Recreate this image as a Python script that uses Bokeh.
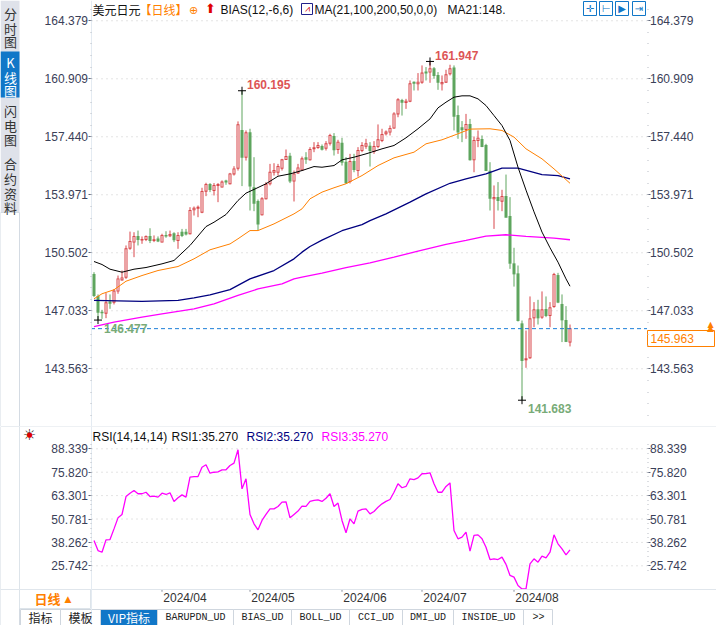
from bokeh.embed import file_html
from bokeh.layouts import column
from bokeh.models import (BoxAnnotation, ColumnDataSource, FixedTicker, Label, LinearAxis,
                          PrintfTickFormatter, Range1d)
from bokeh.plotting import figure
from bokeh.resources import INLINE

# 日线 OHLC
opens = [149.20, 147.89, 146.95, 146.89, 147.55, 147.55, 148.21, 148.88, 149.04, 150.78,
         151.14, 151.48, 151.26, 151.30, 151.48, 151.24, 151.32, 151.14, 151.54, 151.52,
         151.64, 151.24, 151.73, 151.73, 151.64, 153.07, 153.17, 152.93, 154.19, 154.59,
         154.23, 154.53, 154.43, 154.79, 154.63, 155.22, 155.56, 157.82, 156.22, 157.68,
         154.39, 153.57, 152.77, 153.73, 154.63, 155.32, 155.32, 155.56, 156.08, 156.28,
         154.79, 155.28, 155.46, 156.18, 156.06, 156.72, 156.80, 156.86, 156.76, 157.06,
         157.46, 156.68, 157.06, 155.92, 154.77, 155.96, 155.42, 156.62, 156.88, 156.88,
         156.56, 156.86, 157.22, 157.62, 157.72, 157.96, 158.81, 159.61, 159.49, 159.57,
         160.71, 160.61, 160.71, 161.31, 161.31, 161.51, 161.11, 160.61, 160.71, 161.21,
         161.55, 158.71, 157.98, 157.88, 158.18, 156.06, 157.22, 157.28, 156.92, 155.38,
         153.73, 153.81, 153.59, 153.87, 152.67, 149.84, 149.24, 146.25, 144.10, 144.22,
         146.61, 147.09, 146.65, 147.11, 146.75, 147.29, 149.14, 147.41, 146.45, 145.16]
highs = [149.34, 148.01, 147.09, 148.09, 148.01, 148.33, 149.14, 149.44, 150.94, 151.77,
         151.73, 151.83, 151.48, 151.54, 151.97, 151.54, 151.48, 151.64, 151.79, 151.83,
         151.73, 151.73, 151.93, 151.93, 153.23, 153.27, 153.33, 154.39, 154.69, 154.67,
         154.67, 154.67, 154.83, 154.87, 155.28, 155.68, 158.36, 160.195, 157.82, 157.92,
         156.22, 153.69, 153.83, 154.73, 155.82, 155.86, 155.82, 156.12, 156.68, 156.48,
         155.42, 155.82, 156.26, 156.52, 156.82, 157.12, 157.12, 156.98, 157.18, 157.62,
         157.66, 157.26, 157.38, 156.22, 156.42, 156.42, 156.82, 157.12, 157.32, 157.12,
         157.18, 158.18, 157.92, 157.82, 158.12, 158.91, 159.75, 159.71, 159.71, 160.81,
         160.75, 161.25, 161.71, 161.61, 161.947, 161.61, 161.31, 161.11, 161.45, 161.75,
         161.71, 159.31, 158.38, 158.81, 158.51, 157.46, 157.82, 157.52, 157.02, 155.92,
         154.53, 154.73, 154.27, 155.18, 153.83, 150.80, 149.74, 146.45, 145.85, 147.89,
         147.55, 147.69, 148.19, 147.89, 147.55, 149.30, 149.30, 148.01, 147.31, 146.21]
lows = [147.85, 146.477, 146.55, 146.59, 147.15, 147.41, 148.05, 148.84, 148.94, 150.68,
        150.24, 150.94, 151.04, 151.20, 151.08, 151.14, 151.14, 151.12, 151.40, 151.44,
        151.14, 150.74, 151.44, 151.54, 151.60, 152.73, 152.63, 152.87, 153.89, 154.13,
        153.93, 153.53, 154.41, 154.57, 154.59, 155.12, 155.42, 154.49, 156.02, 153.03,
        152.99, 151.86, 152.73, 153.69, 154.53, 155.12, 155.12, 155.42, 156.06, 154.67,
        153.57, 155.22, 155.42, 155.82, 156.02, 156.52, 156.72, 156.62, 156.62, 156.92,
        156.32, 156.42, 155.72, 154.63, 154.65, 155.32, 155.06, 156.52, 156.72, 155.66,
        156.42, 156.76, 157.12, 157.52, 157.52, 157.92, 158.61, 158.71, 159.11, 159.51,
        160.21, 160.21, 160.61, 160.81, 160.67, 160.91, 160.25, 160.21, 160.67, 161.11,
        157.82, 157.32, 157.12, 157.32, 156.02, 155.32, 156.82, 156.82, 155.42, 153.03,
        151.93, 153.03, 152.99, 152.63, 149.54, 148.48, 146.39, 141.683, 143.62, 144.16,
        146.05, 146.21, 146.55, 146.65, 146.05, 147.21, 147.49, 145.16, 145.16, 144.90]
closes = [147.95, 146.95, 146.91, 147.51, 147.49, 148.21, 148.94, 149.00, 150.74, 151.18,
          151.48, 151.30, 151.30, 151.48, 151.24, 151.28, 151.20, 151.54, 151.50, 151.60,
          151.28, 151.54, 151.54, 151.62, 153.03, 153.17, 153.23, 154.17, 154.59, 154.29,
          154.53, 154.59, 154.73, 154.73, 155.22, 155.52, 158.16, 156.22, 157.68, 154.49,
          153.47, 152.23, 153.73, 154.59, 155.32, 155.42, 155.66, 156.06, 156.26, 154.79,
          155.22, 155.58, 156.12, 156.10, 156.68, 156.78, 156.92, 156.70, 157.02, 157.52,
          156.66, 157.12, 155.92, 154.69, 155.96, 155.48, 156.62, 156.92, 157.02, 156.62,
          156.86, 157.26, 157.58, 157.72, 157.94, 158.81, 159.65, 159.51, 159.57, 160.61,
          160.65, 160.71, 161.25, 161.25, 161.51, 161.11, 160.71, 160.69, 161.15, 161.51,
          158.67, 157.72, 157.86, 158.18, 156.06, 157.22, 157.36, 156.86, 155.42, 153.77,
          153.81, 153.63, 153.87, 152.63, 149.88, 149.24, 146.45, 144.06, 144.16, 146.55,
          147.09, 146.61, 147.09, 146.75, 147.21, 149.20, 147.55, 146.49, 145.20, 145.963]

# moving averages, read at the bars listed in *_bars
ma21_bars = [0, 2, 4, 7, 10, 13, 17, 20, 24, 28, 30, 33, 36, 38, 40, 43, 46, 49, 52, 55, 57, 60, 62, 65, 68, 72,
             75, 78, 81, 84, 86, 88, 90, 92, 94, 96, 98, 100, 102, 104, 106, 108, 110, 112, 114, 116, 118, 119]
ma21 = [149.98, 149.80, 149.52, 149.34, 149.52, 149.62, 149.84, 150.04, 150.94, 152.07, 152.33, 152.79, 153.63,
        154.07, 154.29, 154.63, 155.08, 155.22, 155.42, 155.66, 155.62, 155.72, 156.06, 156.22, 156.42, 156.72,
        156.92, 157.38, 157.92, 158.51, 159.17, 159.51, 159.81, 159.89, 159.89, 159.71, 159.31, 158.71, 158.11,
        157.22, 155.62, 154.25, 152.95, 151.74, 150.80, 149.94, 148.94, 148.50]
ma50_bars = [0, 2, 5, 8, 12, 16, 21, 25, 29, 34, 36, 39, 41, 45, 50, 52, 54, 57, 60, 63, 67, 71, 75, 80, 83, 87,
             91, 94, 99, 102, 105, 108, 112, 115, 119]
ma50 = [147.75, 148.05, 148.29, 148.80, 149.14, 149.44, 149.68, 150.14, 150.68, 151.03, 151.34, 151.83, 151.83,
        152.23, 152.83, 153.13, 153.73, 154.13, 154.39, 154.63, 155.12, 155.72, 156.18, 156.52, 157.02, 157.26,
        157.62, 157.90, 157.92, 157.82, 157.42, 156.72, 156.12, 155.52, 154.66]
ma100_bars = [0, 12, 21, 25, 29, 34, 39, 45, 50, 52, 54, 57, 62, 67, 69, 73, 79, 83, 89, 93, 98, 102, 106, 112, 116,
              119]
ma100 = [147.65, 147.59, 147.65, 147.81, 147.99, 148.30, 148.94, 149.44, 150.14, 150.54, 150.88, 151.26, 151.82,
         152.19, 152.43, 152.83, 153.53, 154.03, 154.66, 154.92, 155.22, 155.56, 155.56, 155.18, 155.12, 154.92]
ma200_bars = [0, 5, 12, 17, 25, 30, 36, 41, 47, 50, 52, 57, 63, 69, 75, 81, 88, 93, 98, 103, 108, 115, 119]
ma200 = [146.09, 146.35, 146.65, 146.85, 147.15, 147.45, 147.95, 148.34, 148.64, 148.94, 149.04, 149.28, 149.62,
         149.90, 150.24, 150.60, 151.00, 151.24, 151.50, 151.58, 151.48, 151.38, 151.28]

rsi = [39.3, 33.9, 33.0, 39.6, 39.8, 45.5, 51.4, 53.2, 62.8, 64.6, 66.0, 64.3, 64.3, 65.1, 62.8, 63.0, 62.5, 64.6,
       63.9, 64.8, 60.2, 62.1, 63.7, 62.5, 73.2, 73.5, 73.5, 78.5, 79.8, 75.3, 75.8, 76.0, 77.1, 77.1, 79.4, 80.7,
       87.8, 66.9, 72.3, 53.2, 48.2, 45.0, 50.0, 53.2, 56.2, 56.2, 57.5, 59.8, 60.0, 51.4, 53.2, 55.0, 57.7, 57.5,
       60.2, 60.7, 61.0, 60.2, 61.9, 64.3, 57.5, 59.3, 50.0, 43.4, 50.9, 48.2, 55.0, 55.9, 56.2, 53.5, 54.8, 57.1,
       58.9, 60.2, 61.2, 65.1, 69.6, 67.5, 68.2, 72.3, 71.9, 72.8, 75.0, 75.1, 75.5, 69.6, 65.1, 65.1, 68.2, 70.1,
       44.6, 40.2, 41.1, 43.8, 33.6, 42.0, 42.3, 40.2, 35.7, 29.1, 29.5, 29.1, 30.4, 26.5, 20.6, 19.7, 15.2, 13.4,
       13.4, 26.8, 29.5, 27.7, 30.9, 30.0, 33.0, 42.3, 37.5, 34.8, 31.6, 34.3]

price_ticks = [164.379, 160.909, 157.440, 153.971, 150.502, 147.033, 143.563]
rsi_ticks = [88.339, 75.820, 63.301, 50.781, 38.262, 25.742]
month_bars = [17, 39, 62, 82, 105]
month_labels = ["2024/04", "2024/05", "2024/06", "2024/07", "2024/08"]
last_close = 145.963
last_rsi = "35.270"

RED = "#d8474a"
GREEN = "#5ea55e"
AXIS_TEXT = "#3a4058"
SANS = "Liberation Sans"
CJK = "Noto Sans CJK SC"
MONO = "Liberation Mono"
ORANGE = "#ff8000"
BLUE = "#1177c8"
# the frame fills the whole canvas, so the axes sit at fixed bars inside it
LEFT_BAR = -0.75
RIGHT_BAR = 138.25
RSI_FLOOR = 13.07
ONE_PX = 0.06  # one pixel of the price scale


def minor_ticks(ticks, below, above):
    # four small dots between the labelled ticks
    step = (ticks[0] - ticks[1]) / 5
    return [ticks[0] + step * n for n in range(-5 * (len(ticks) - 1) - below, above + 1)]


def style_axis(axis, ticks, minors, location):
    axis.fixed_location = location
    axis.ticker = FixedTicker(ticks=ticks, minor_ticks=minors)
    axis.formatter = PrintfTickFormatter(format="%.3f")
    axis.major_label_text_font = SANS
    axis.major_label_text_font_size = "12px"
    axis.major_label_text_color = AXIS_TEXT
    axis.major_label_standoff = 0
    axis.major_tick_in = 0
    axis.major_tick_out = 3
    axis.major_tick_line_color = "#60687c"
    axis.minor_tick_in = 0
    axis.minor_tick_out = 1
    axis.minor_tick_line_color = "#b8bcc4"
    axis.axis_line_color = "#e4ebf2"


def base_figure(height, y_range):
    fig = figure(width=716, height=height, x_range=Range1d(-23.375, 155.625), y_range=y_range,
                 output_backend="svg", toolbar_location=None, x_axis_location=None,
                 min_border_left=0, min_border_right=0, min_border_top=0, min_border_bottom=0)
    fig.outline_line_color = None
    fig.xgrid.visible = False
    fig.ygrid.visible = False
    return fig


def add_grid(fig, ticks):
    fig.segment([LEFT_BAR] * len(ticks), ticks, [RIGHT_BAR] * len(ticks), ticks,
                line_color="#e4e4e4", line_width=1, line_dash="2 3")


def put(fig, page_bottom, x, y, text, color="#111111", size=12, font=SANS, style="normal", align="left"):
    # x, y are page positions for the chrome around the chart
    fig.add_layout(Label(x=x, y=page_bottom - y, x_units="screen", y_units="screen", text=text,
                         text_color=color, text_font=font, text_font_size=f"{size}px", text_font_style=style,
                         text_align=align, text_baseline="middle"))


def box(fig, page_bottom, left, right, top, bottom, fill=None, line=None, level="underlay"):
    fig.add_layout(BoxAnnotation(left=left, right=right, top=page_bottom - top, bottom=page_bottom - bottom,
                                 left_units="screen", right_units="screen", top_units="screen",
                                 bottom_units="screen", fill_color=fill, fill_alpha=1 if fill else 0,
                                 line_color=line, line_alpha=1 if line else 0, line_width=1, level=level))


# price panel
p = base_figure(426, Range1d(140.11, 165.593))
add_grid(p, price_ticks)
price_minor = minor_ticks(price_ticks, 5, 3)
style_axis(p.yaxis[0], price_ticks, price_minor, LEFT_BAR)
right_axis = LinearAxis()
style_axis(right_axis, price_ticks, price_minor, RIGHT_BAR)
right_axis.axis_line_color = None
p.add_layout(right_axis, "right")

bars = list(range(len(opens)))
up = [c >= o for o, c in zip(opens, closes)]
source = ColumnDataSource(dict(
    x=bars, high=highs, low=lows,
    top=[max(o, c) + ONE_PX / 2 for o, c in zip(opens, closes)],
    bottom=[min(o, c) - ONE_PX / 2 for o, c in zip(opens, closes)],
    line=[RED if u else GREEN for u in up],
))
# wicks and bodies as thick strokes, so they stay on whole pixels; rising bars get a white core
p.segment("x", "high", "x", "low", source=source, line_color="line", line_width=1)
p.segment("x", "top", "x", "bottom", source=source, line_color="line", line_width=3, line_cap="butt")
hollow = [b for b in bars if up[b] and closes[b] - opens[b] > ONE_PX]
p.segment(hollow, [closes[b] - ONE_PX / 2 for b in hollow], hollow, [opens[b] + ONE_PX / 2 for b in hollow],
          line_color="white", line_width=1, line_cap="butt")

p.line(ma200_bars, ma200, line_color="#ff00ff", line_width=1.3)
p.line(ma100_bars, ma100, line_color="#000080", line_width=1.3)
p.line(ma50_bars, ma50, line_color=ORANGE, line_width=1)
p.line(ma21_bars, ma21, line_color="#000000", line_width=1)

p.line([LEFT_BAR, RIGHT_BAR], [last_close, last_close], line_color="#1e7fd8", line_width=1, line_dash="4 3")

# high and low markers
top_bars = [highs.index(max(highs[:60])), highs.index(max(highs))]
low_bars = [lows.index(min(lows[:60])), lows.index(min(lows))]
p.scatter(top_bars, [highs[b] for b in top_bars], marker="cross", size=8, line_color="black")
p.scatter(low_bars, [lows[b] for b in low_bars], marker="cross", size=8, line_color="black")
for b in top_bars:
    p.add_layout(Label(x=b, y=highs[b], text=f"{highs[b]:.3f}", text_color="#dd5555", text_font=SANS,
                       text_font_size="12px", text_font_style="bold", x_offset=5, y_offset=6,
                       text_baseline="middle"))
for b in low_bars:
    p.add_layout(Label(x=b, y=lows[b], text=f"{lows[b]:.3f}", text_color="#78ab78", text_font=SANS,
                       text_font_size="12px", text_font_style="bold", x_offset=6, y_offset=-8,
                       text_baseline="middle"))

# title row
put(p, 426, 92, 9, "美元日元", font=CJK)
put(p, 426, 139, 9, "【日线】", color=ORANGE, font=CJK)
put(p, 426, 193, 10, "⊕", color=ORANGE, size=11, font="DejaVu Sans", align="center")
put(p, 426, 210, 8, "⬆", color="#e00000", size=13, font="DejaVu Sans", align="center")
put(p, 426, 220, 9, "BIAS(12,-6,6)")
box(p, 426, 301, 312, 3, 14, fill="#ffffff", line="#20208a")
put(p, 426, 306.5, 8.5, "⩘", color="#d00000", size=9, font="DejaVu Sans", align="center")
put(p, 426, 314, 9, "MA(21,100,200,50,0,0)")
put(p, 426, 447, 9, "MA21:148.")

# buttons at the top right
for left, mark in zip([583, 599, 615, 632], ["✛", "⊢", "▶", "⇥"]):
    box(p, 426, left, left + 13, 1, 15, line=BLUE)
    put(p, 426, left + 6.5, 8, mark, color=BLUE, size=10, font="DejaVu Sans", align="center")

# last price tag
box(p, 426, 647, 714, 330, 346, fill="#ffffff", line=ORANGE)
put(p, 426, 650, 338, f"{last_close:.3f}", color=ORANGE)
put(p, 426, 710, 324, "▲", color=ORANGE, size=8, font="DejaVu Sans", align="center")
put(p, 426, 710, 327, "▲", color=ORANGE, size=9, font="DejaVu Sans", align="center")

# side tabs
box(p, 426, 0, 19, 0, 212, fill="#dfe2ea")
box(p, 426, 0, 19, 51, 97, fill=BLUE)
box(p, 426, 0, 19, 212, 426, line="#d4dbe3")
side = [("分", 13), ("时", 28), ("图", 41), ("K", 62), ("线", 77), ("图", 90), ("闪", 110), ("电", 125), ("图", 139),
        ("合", 163), ("约", 178), ("资", 193), ("料", 207)]
for ch, y in side:
    put(p, 426, 10, y, ch, color="#ffffff" if 51 < y < 97 else "#333333", size=13, font=CJK, align="center")

# RSI panel, the frame runs on below the axis to hold the tab row
q = base_figure(199, Range1d(-6.19, 100.27))
add_grid(q, rsi_ticks)
rsi_minor = minor_ticks(rsi_ticks, 1, 1)
style_axis(q.yaxis[0], rsi_ticks, rsi_minor, LEFT_BAR)
rsi_right = LinearAxis()
style_axis(rsi_right, rsi_ticks, rsi_minor, RIGHT_BAR)
rsi_right.axis_line_color = None
q.add_layout(rsi_right, "right")

# month names start at the tick, and an axis centres them, so their ticks sit half a label further on
label_bars = [b + 5.75 for b in month_bars]
month_axis = LinearAxis(ticker=FixedTicker(ticks=label_bars), fixed_location=RSI_FLOOR,
                        major_label_overrides=dict(zip(label_bars, month_labels)))
month_axis.major_label_text_font = SANS
month_axis.major_label_text_font_size = "12px"
month_axis.major_label_text_color = "#333333"
month_axis.major_label_standoff = 2
month_axis.major_tick_line_color = None
month_axis.minor_tick_line_color = None
month_axis.major_tick_in = 0
month_axis.major_tick_out = 0
month_axis.axis_line_color = "#e0e6ec"
q.add_layout(month_axis, "below")
q.segment(month_bars, [RSI_FLOOR] * 5, month_bars, [RSI_FLOOR - 1.2] * 5, line_color="#8a8f9c", line_width=1)

q.line(bars, rsi, line_color="#ff00ff", line_width=1.3)

put(q, 625, 92, 436, "RSI(14,14,14)")
put(q, 625, 171, 436, f"RSI1:{last_rsi}")
put(q, 625, 246, 436, f"RSI2:{last_rsi}", color="#000080")
put(q, 625, 321, 436, f"RSI3:{last_rsi}", color="#ff00ff")
put(q, 625, 29, 434, "☼", color="#111111", size=15, font="DejaVu Sans", align="center")
put(q, 625, 29, 434, "●", color="#e00000", size=7, font="DejaVu Sans", align="center")

# frame around the lower panel and the tab row
box(q, 625, 0, 19, 426, 625, line="#d4dbe3")
box(q, 625, 19, 716, 426, 589, line="#dde4ea")
box(q, 625, 19, 90, 589, 608, line="#dde4ea")
put(q, 625, 34, 598, "日线", color=ORANGE, size=13, font=CJK, style="bold")
put(q, 625, 64, 598, "▲", color=ORANGE, size=9, font="DejaVu Sans")

box(q, 625, 100, 157, 609, 625, fill=BLUE)
tab_edges = [20, 60, 100, 157, 233, 291, 349, 402, 453, 523, 552]
for left, right in zip(tab_edges[:-1], tab_edges[1:]):
    box(q, 625, left, right, 609, 625, line="#cfd6de")
tabs = [("指标", 40, CJK), ("模板", 80, CJK), ("VIP指标", 128.5, CJK), ("BARUPDN_UD", 195, MONO),
        ("BIAS_UD", 262, MONO), ("BOLL_UD", 320, MONO), ("CCI_UD", 375.5, MONO),
        ("DMI_UD", 427.5, MONO), ("INSIDE_UD", 488, MONO), (">>", 538, MONO)]
for name, x, font in tabs:
    put(q, 625, x, 617, name, color="#ffffff" if name == "VIP指标" else "#222222",
        size=12 if font == CJK else 10, font=font, align="center")

page = column(p, q, spacing=0)
open("out.html", "w").write(file_html(page, INLINE))
